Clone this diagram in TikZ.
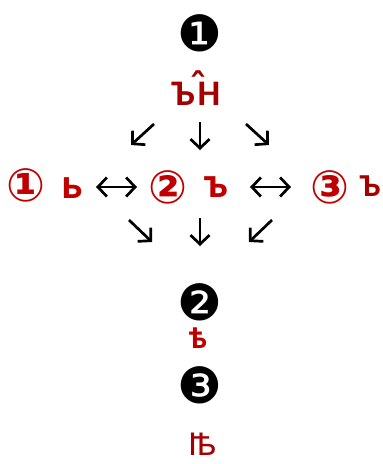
\documentclass[tikz,border=0pt]{standalone}
\usepackage{fontspec}
\setmainfont{Carlito}
\newfontfamily\symfont{DejaVu Sans}
\newfontfamily\notofont{Noto Sans}
\usetikzlibrary{arrows.meta}
\definecolor{redA}{RGB}{192,0,0}
\definecolor{redB}{RGB}{165,0,0}
\begin{document}
\begin{tikzpicture}[x=1pt,y=-1pt,
  blacknum/.style={inner sep=0pt, font=\symfont\fontsize{50}{50}\selectfont},
  rednum/.style={inner sep=0pt, text=redA, font=\symfont\bfseries\fontsize{46}{46}\selectfont},
  cyr/.style={inner sep=0pt, text=redA, font=\bfseries\fontsize{43}{43}\selectfont},
  cyrdark/.style={cyr, text=redB},
  arr/.style={line width=2.7pt, -{Straight Barb[length=9pt,width=19pt]}},
  darr/.style={line width=2.7pt, {Straight Barb[length=9pt,width=19pt]}-{Straight Barb[length=9pt,width=19pt]}},
]
\useasboundingbox (0,0) rectangle (383,464);

\node[blacknum] (n1) at (200,33) {❶};
\node[cyrdark, anchor=base, font=\bfseries\fontsize{36}{36}\selectfont] (top) at (196,105)
  {Ъ\kern13pt{\symfont\bfseries\smash{\raisebox{6pt}{̂}}}\kern-10pt Н};

\coordinate (a1s) at (154,124); \coordinate (a1e) at (131,145);
\coordinate (a2s) at (200,122); \coordinate (a2e) at (200,150);
\coordinate (a3s) at (246,124); \coordinate (a3e) at (269,145);
\draw[arr] (a1s) -- (a1e);
\draw[arr] (a2s) -- (a2e);
\draw[arr] (a3s) -- (a3e);

\node[rednum] (c1) at (26,185) {①};
\node[cyr] (soft) at (72,188) {ь};
\node[rednum] (c2) at (168,187) {②};
\node[cyr] (hard) at (216,187) {ъ};
\node[rednum] (c3) at (330,187) {③};
\node[cyrdark, font=\bfseries\fontsize{32}{32}\selectfont] (Hard) at (370,186) {Ъ};

\coordinate (h1s) at (96,187); \coordinate (h1e) at (137,187);
\coordinate (h2s) at (250,187); \coordinate (h2e) at (291,187);
\draw[darr] (h1s) -- (h1e);
\draw[darr] (h2s) -- (h2e);

\coordinate (b1s) at (129,220); \coordinate (b1e) at (152,242);
\coordinate (b2s) at (200,218); \coordinate (b2e) at (200,246);
\coordinate (b3s) at (272,220); \coordinate (b3e) at (249,242);
\draw[arr] (b1s) -- (b1e);
\draw[arr] (b2s) -- (b2e);
\draw[arr] (b3s) -- (b3e);

\node[blacknum] (n2) at (200,302) {❷};
\node[cyr, anchor=base, text height=19pt, text depth=0pt, font=\bfseries\fontsize{34}{34}\selectfont] (yat) at (198,348) {ѣ};
\node[blacknum] (n3) at (200,385) {❸};
\node[cyrdark, anchor=base, text depth=0pt, font=\notofont\bfseries\fontsize{35}{35}\selectfont] (iyat) at (203,455) {ꙓ};
\end{tikzpicture}
\end{document}
